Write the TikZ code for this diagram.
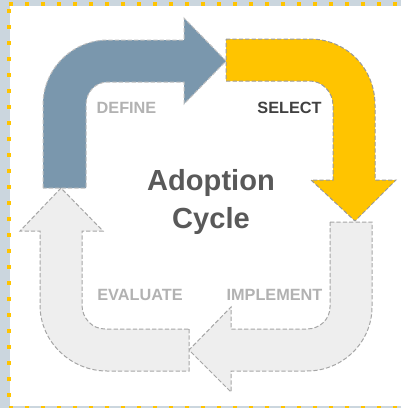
\documentclass[tikz,border=0pt]{standalone}
\usepackage{fontspec}
\setmainfont{Liberation Sans}
\usepackage{xcolor}
\definecolor{slateback}{HTML}{CBD6DE}
\definecolor{dotyellow}{HTML}{FFC400}
\definecolor{defineblue}{HTML}{7A97AD}
\definecolor{cyclegray}{HTML}{EEEEEE}
\tikzset{
	cyclearrow/.style={line width=0.75pt, dash pattern=on 3.2pt off 1.6pt},
	phaselabel/.style={font=\bfseries\fontsize{12.2}{14}\selectfont, text=black!30, inner sep=0pt},
	dotmark/.style={fill=dotyellow, draw=none}
}
\begin{document}
\begin{tikzpicture}[x=0.75pt, y=-0.75pt]
	\useasboundingbox (0,0) rectangle (401,408);
	\fill[slateback] (0,0) rectangle (401,408);
	\fill[white] (10,6) rectangle (401,406);

	%Frame dots
	\foreach \x in {11,27,...,395} {
		\fill[dotmark] (\x-2,2) rectangle (\x+2,6);
		\fill[dotmark] (\x-2,406) rectangle (\x+2,408);
	}
	\foreach \y in {11,27,...,395} {
		\fill[dotmark] (7,\y-2) rectangle (11,\y+2);
	}

	%Define
	\draw[cyclearrow, fill=defineblue, draw=black!25] (43,188) -- (43,105) .. controls (43,69) and (72,40) .. (108,40) -- (184,40) -- (184,18) -- (226,61) -- (184,104) -- (184,82) -- (108,82) .. controls (95.5,82) and (86,92) .. (86,105) -- (86,188) -- cycle;

	%Select
	\draw[cyclearrow, fill=dotyellow, draw=black!40] (226,39) -- (310,39) .. controls (346,39) and (375,68) .. (375,105) -- (375,180) -- (396,180) -- (355,221) -- (311,180) -- (333,180) -- (333,105) .. controls (333,92) and (322,81) .. (310,81) -- (226,81) -- cycle;

	%Implement
	\draw[cyclearrow, fill=cyclegray, draw=black!35] (330,222) -- (372,222) -- (372,307) .. controls (372,342) and (343,371) .. (307,371) -- (231,371) -- (231,392) -- (189,350) -- (231,307) -- (231,329) -- (307,329) .. controls (320,329) and (330,319) .. (330,307) -- cycle;

	%Evaluate
	\draw[cyclearrow, fill=cyclegray, draw=black!35] (189,329) -- (189,371) -- (107,371) .. controls (71,371) and (40,342) .. (40,305) -- (40,231) -- (20,231) -- (61,188) -- (103,231) -- (82,231) -- (82,305) .. controls (82,318) and (92,329) .. (105,329) -- cycle;

	\node[phaselabel] (define) at (126.5,108) {DEFINE};
	\node[phaselabel, text=black!75] (select) at (289.5,108) {SELECT};
	\node[phaselabel] (evaluate) at (140,295) {EVALUATE};
	\node[phaselabel] (implement) at (274.5,295) {IMPLEMENT};
	\node[font=\bfseries\fontsize{21.8}{28.5}\selectfont, text=black!65, align=center, inner sep=0pt] (title) at (211,201.5) {Adoption\\Cycle};
\end{tikzpicture}
\end{document}
